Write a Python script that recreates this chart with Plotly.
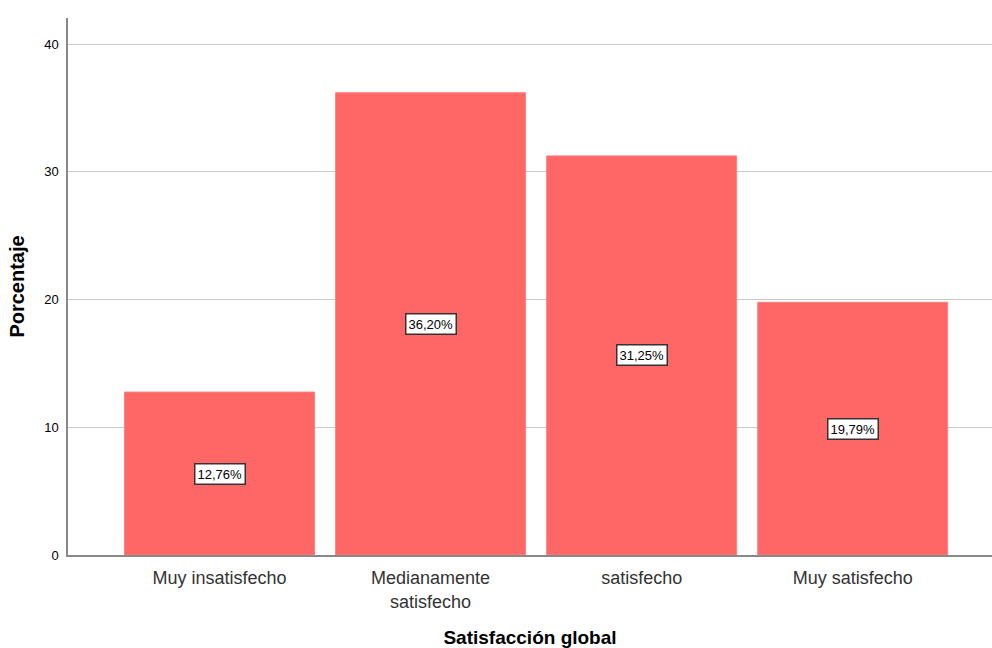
import plotly.graph_objects as go

# Satisfacción global: porcentaje por categoría
categorias = ["Muy insatisfecho", "Medianamente<br>satisfecho", "satisfecho", "Muy satisfecho"]
porcentajes = [12.76, 36.20, 31.25, 19.79]
y_ticks = [0, 10, 20, 30, 40]

FONT = "Liberation Sans, Arial, sans-serif"

fig = go.Figure()
fig.add_trace(go.Bar(
    x=list(range(len(categorias))),
    y=porcentajes,
    width=0.9,
    marker=dict(color="#FF6666", line=dict(color="#FF8080", width=1)),
    hoverinfo="skip",
))

# value boxes at half bar height
for i, v in enumerate(porcentajes):
    fig.add_annotation(
        x=i, y=v / 2,
        text=f"{v:.2f}".replace(".", ",") + "%",
        showarrow=False,
        font=dict(family=FONT, size=13, color="#000000"),
        bgcolor="#FFFFFF",
        bordercolor="#333333",
        borderwidth=1.5,
        borderpad=2,
    )

fig.update_layout(
    width=992, height=648,
    margin=dict(l=68, r=0, t=18, b=93),
    paper_bgcolor="#FFFFFF",
    plot_bgcolor="#FFFFFF",
    showlegend=False,
    bargap=0.1,
    font=dict(family=FONT),
)

fig.update_xaxes(
    tickvals=list(range(len(categorias))),
    ticktext=categorias,
    range=[-0.718, 3.66],
    showgrid=False,
    showline=True, linecolor="#888888", linewidth=1.5,
    ticks="",
    ticklabelstandoff=6,
    tickfont=dict(family=FONT, size=18, color="#333333"),
    title=dict(text="<b>Satisfacción global</b>", font=dict(family=FONT, size=19, color="#000000"), standoff=20),
)

fig.update_yaxes(
    range=[0, 42.05],
    tickvals=y_ticks,
    showgrid=True, gridcolor="#C8C8C8", gridwidth=1,
    zeroline=False,
    showline=True, linecolor="#888888", linewidth=1.5,
    ticks="",
    ticklabelstandoff=5,
    tickfont=dict(family=FONT, size=13, color="#000000"),
    title=dict(text="<b>Porcentaje</b>", font=dict(family=FONT, size=20, color="#000000"), standoff=14),
)

fig.write_html("out.html")
